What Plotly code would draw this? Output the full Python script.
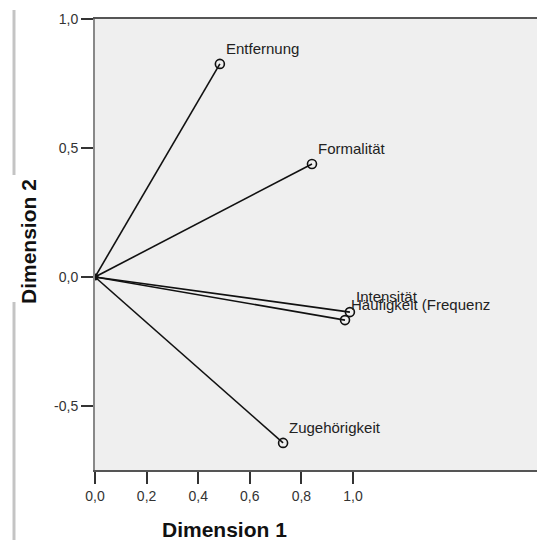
import plotly.graph_objects as go

variables = ["Entfernung", "Formalität", "Intensität", "Häufigkeit (Frequenz", "Zugehörigkeit"]
dim1 = [0.484, 0.841, 0.988, 0.969, 0.729]
dim2 = [0.826, 0.438, -0.136, -0.167, -0.643]

x_ticks = [0.0, 0.2, 0.4, 0.6, 0.8, 1.0]
x_tick_labels = ["0,0", "0,2", "0,4", "0,6", "0,8", "1,0"]
y_ticks = [-0.5, 0.0, 0.5, 1.0]
y_tick_labels = ["-0,5", "0,0", "0,5", "1,0"]

W, H = 537, 540
L, T, B, R = 95, 19, 70, 0
pw, ph = W - L - R, H - T - B
unit = 258.0
x_range = [0, pw / unit]
y_range = [1.0 - ph / unit, 1.0]

font_family = "Arial, Liberation Sans, sans-serif"

fig = go.Figure()

# vector lines from origin
lx, ly = [], []
for a, b in zip(dim1, dim2):
    lx += [0, a, None]
    ly += [0, b, None]
fig.add_trace(go.Scatter(x=lx, y=ly, mode="lines",
                         line=dict(color="#111111", width=1.6),
                         hoverinfo="skip", showlegend=False))
fig.add_trace(go.Scatter(x=[0], y=[0], mode="markers",
                         marker=dict(color="#111111", size=7),
                         hoverinfo="skip", showlegend=False))
fig.add_trace(go.Scatter(x=dim1, y=dim2, mode="markers",
                         marker=dict(symbol="circle-open", size=9, color="#111111",
                                     line=dict(width=1.6)),
                         text=variables, showlegend=False))

annotations = []
for name, a, b in zip(variables, dim1, dim2):
    annotations.append(dict(x=a, y=b, xref="x", yref="y", text=name, showarrow=False,
                            xanchor="left", yanchor="bottom", xshift=4, yshift=5,
                            font=dict(family=font_family, size=15, color="#222222")))

def px_to_paper_x(px):
    return (px - L) / pw

def px_to_paper_y(py):
    return (H - B - py) / ph

annotations.append(dict(x=px_to_paper_x(224), y=px_to_paper_y(529), xref="paper", yref="paper",
                        text="<b>Dimension 1</b>", showarrow=False,
                        xanchor="center", yanchor="middle",
                        font=dict(family=font_family, size=21, color="#111111")))
annotations.append(dict(x=px_to_paper_x(28), y=px_to_paper_y(242), xref="paper", yref="paper",
                        text="<b>Dimension 2</b>", showarrow=False, textangle=-90,
                        xanchor="center", yanchor="middle",
                        font=dict(family=font_family, size=21, color="#111111")))

shapes = [
    dict(type="line", xref="paper", yref="paper",
         x0=px_to_paper_x(14), x1=px_to_paper_x(14),
         y0=px_to_paper_y(10), y1=px_to_paper_y(175),
         line=dict(color="#c4c4c4", width=3)),
    dict(type="line", xref="paper", yref="paper",
         x0=px_to_paper_x(14), x1=px_to_paper_x(14),
         y0=px_to_paper_y(302), y1=px_to_paper_y(545),
         line=dict(color="#c4c4c4", width=3)),
]

fig.update_layout(
    width=W, height=H,
    margin=dict(l=L, r=R, t=T, b=B, pad=0),
    paper_bgcolor="white",
    plot_bgcolor="#efefef",
    annotations=annotations,
    shapes=shapes,
    font=dict(family=font_family, size=14, color="#333333"),
)
fig.update_xaxes(range=x_range, tickvals=x_ticks, ticktext=x_tick_labels,
                 showgrid=False, zeroline=False,
                 showline=True, linecolor="#555555", linewidth=2, mirror=True,
                 ticks="outside", ticklen=12, tickwidth=1.5, tickcolor="#333333",
                 tickfont=dict(family=font_family, size=14, color="#333333"))
fig.update_yaxes(range=y_range, tickvals=y_ticks, ticktext=y_tick_labels,
                 showgrid=False, zeroline=False,
                 showline=True, linecolor="#888888", linewidth=2, mirror=False,
                 ticks="outside", ticklen=12, tickwidth=1.5, tickcolor="#333333",
                 tickfont=dict(family=font_family, size=14, color="#333333"))

fig.write_html("out.html", config={"displayModeBar": False},
               post_script="document.body.style.margin='0';document.body.style.overflow='hidden';")
